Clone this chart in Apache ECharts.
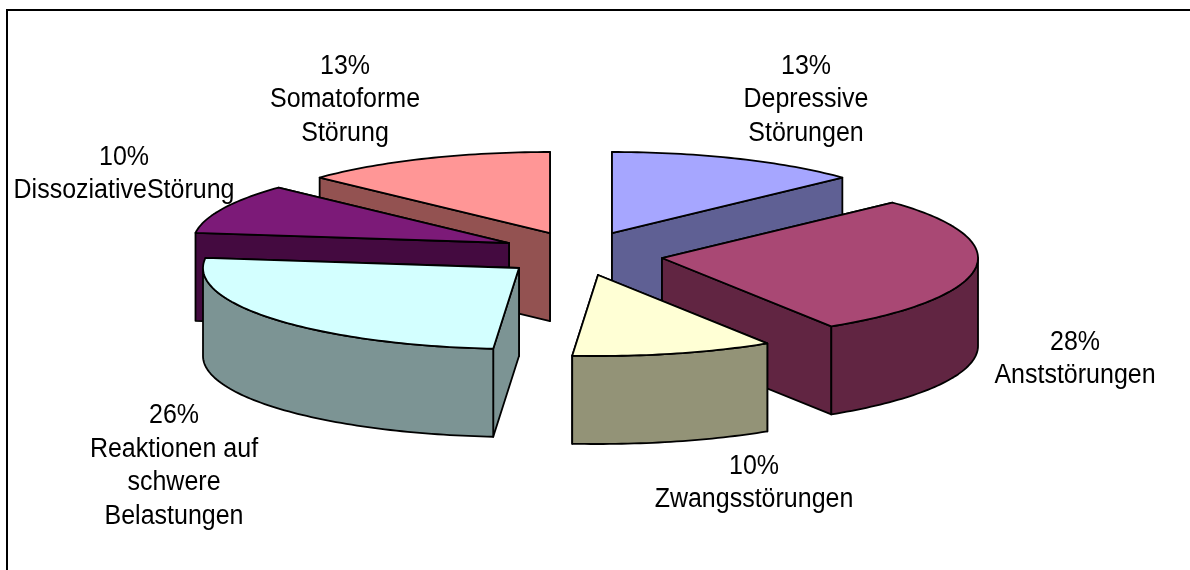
<!DOCTYPE html>
<html>
<head>
<meta charset="utf-8">
<title>Störungen</title>
<script src="https://cdn.jsdelivr.net/npm/echarts@6/dist/echarts.min.js"></script>
<style>
    html, body { margin: 0; padding: 0; background: #ffffff; }
    #chart { width: 1190px; height: 570px; }
</style>
</head>
<body>
<div id="chart"></div>
<script>
// Werte, im Uhrzeigersinn ab 12 Uhr
var categories = ['Depressive\nStörungen', 'Anststörungen', 'Zwangsstörungen', 'Reaktionen auf\nschwere\nBelastungen', 'DissoziativeStörung', 'Somatoforme\nStörung'];
var values = [13, 28, 10.3, 25.7, 10, 13];

// Farben je Segment
var topColors = ['#a6a6ff', '#a94874', '#ffffd5', '#d3ffff', '#7c1a78', '#ff9696'];
var sideColors = ['#5f6094', '#612542', '#939377', '#7c9494', '#440a40', '#935251'];

// Layout: Spitze jedes Segments, Beschriftung, Zeichenreihenfolge
var apexX = [612, 662, 598, 519, 509, 550];
var apexY = [233, 258, 275, 268, 243, 233];
var labelX = [806, 1075, 754, 174, 124, 345];
var labelY = [100, 359, 483, 466, 174, 100];
var drawOrder = [1, 3, 4, 5, 2, 0];

var RX = 316, RY = 81, DEPTH = 88;
var total = values.reduce(function (a, b) { return a + b; }, 0);

function pointAt(i, angle, dy) {
    return [apexX[i] + RX * Math.sin(angle), apexY[i] - RY * Math.cos(angle) + (dy || 0)];
}

function arcPoints(i, from, to, dy) {
    var pts = [];
    var n = Math.max(2, Math.ceil(Math.abs(to - from) / 0.02));
    for (var k = 0; k <= n; k++) {
        pts.push(pointAt(i, from + (to - from) * k / n, dy));
    }
    return pts;
}

function renderSlice(params, api) {
    var i = params.dataIndex;
    var acc = 0;
    for (var k = 0; k < i; k++) acc += values[k];
    var start = acc / total * Math.PI * 2;
    var end = (acc + api.value(0)) / total * Math.PI * 2;
    var z = (drawOrder[i] + 1) * 10;
    var lineStyle = { stroke: '#000000', lineWidth: 1.8, lineJoin: 'round' };
    var apex = [apexX[i], apexY[i]];
    var apexLow = [apexX[i], apexY[i] + DEPTH];
    var children = [];

    function face(points, color, order) {
        children.push({
            type: 'polygon',
            z2: z + order,
            shape: { points: points },
            style: Object.assign({ fill: color }, lineStyle)
        });
    }

    // Seitenflächen an beiden Schnittkanten, die hintere zuerst
    var startBehind = pointAt(i, start)[1] < pointAt(i, end)[1];
    face([apex, pointAt(i, start), pointAt(i, start, DEPTH), apexLow], sideColors[i], startBehind ? 0 : 1);
    face([apex, pointAt(i, end), pointAt(i, end, DEPTH), apexLow], sideColors[i], startBehind ? 1 : 0);

    // Außenkante, nur die vordere Hälfte der Ellipse ist sichtbar
    var from = Math.max(start, Math.PI / 2);
    var to = Math.min(end, Math.PI * 1.5);
    if (to > from) {
        var front = arcPoints(i, from, to).concat(arcPoints(i, to, from, DEPTH));
        face(front, sideColors[i], 2);
    }

    // Deckfläche
    face([apex].concat(arcPoints(i, start, end)), topColors[i], 3);

    return { type: 'group', children: children };
}

function renderLabel(params, api) {
    var i = params.dataIndex;
    return {
        type: 'text',
        z2: 100,
        x: labelX[i],
        y: labelY[i],
        scaleX: 0.926,
        style: {
            text: Math.round(api.value(0)) + '%\n' + categories[i],
            fill: '#000000',
            font: '27px "Liberation Sans", Arial, sans-serif',
            lineHeight: 33.5,
            textAlign: 'center',
            textVerticalAlign: 'middle'
        }
    };
}

var chart = echarts.init(document.getElementById('chart'), null, { renderer: 'canvas' });
chart.setOption({
    animation: false,
    backgroundColor: '#ffffff',
    // Rahmen, rechts und unten abgeschnitten
    graphic: [{
        type: 'rect',
        silent: true,
        shape: { x: 7, y: 10, width: 1300, height: 700 },
        style: { fill: 'none', stroke: '#000000', lineWidth: 2 }
    }],
    series: [
        {
            type: 'custom',
            coordinateSystem: 'none',
            silent: true,
            renderItem: renderSlice,
            data: values.map(function (v) { return [v]; })
        },
        {
            type: 'custom',
            coordinateSystem: 'none',
            silent: true,
            z: 5,
            renderItem: renderLabel,
            data: values.map(function (v) { return [v]; })
        }
    ]
});
</script>
</body>
</html>
